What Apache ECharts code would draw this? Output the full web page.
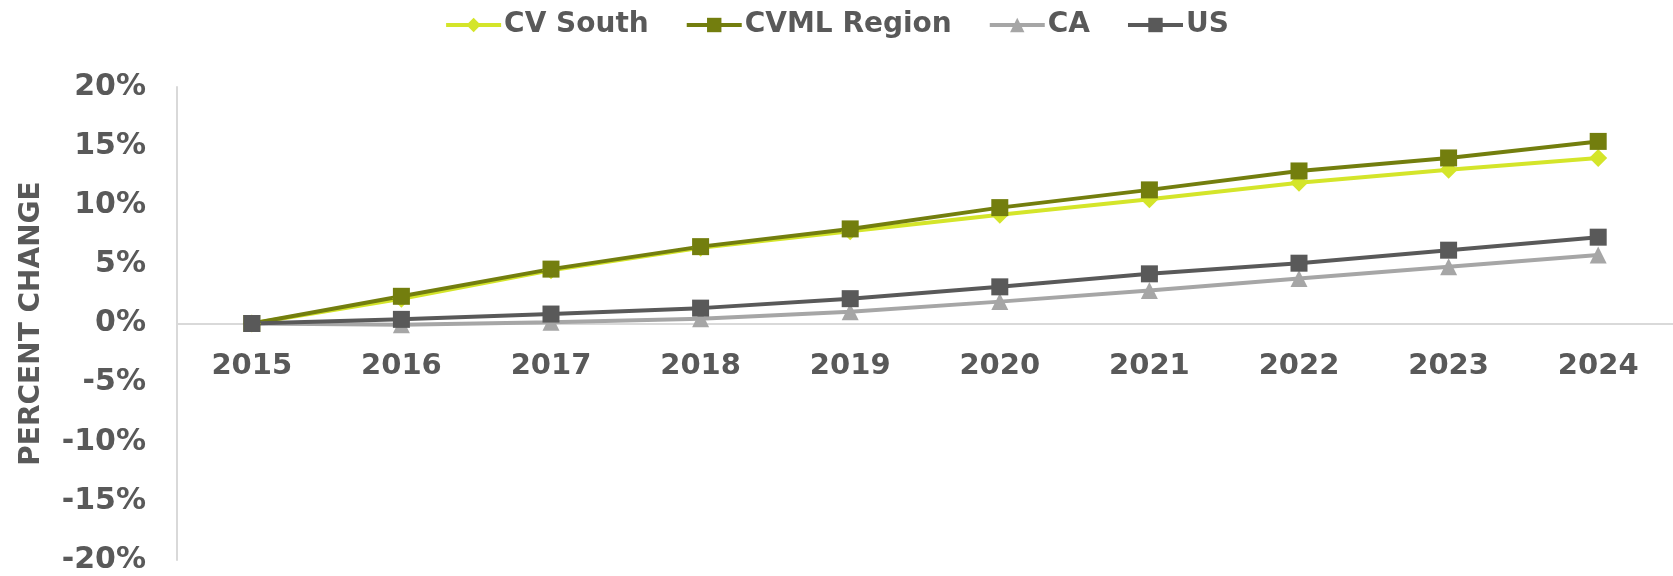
<!DOCTYPE html>
<html>
<head>
<meta charset="utf-8">
<script src="https://cdn.jsdelivr.net/npm/echarts@6/dist/echarts.min.js"></script>
<style>
	html, body { margin: 0; padding: 0; background: #fff; }
	#chart { width: 1673px; height: 576px; }
</style>
</head>
<body>
<div id="chart"></div>
<script>
	// data (percent change since 2015)
	var years = ['2015', '2016', '2017', '2018', '2019', '2020', '2021', '2022', '2023', '2024'];
	var cvSouth = [0, 2.1, 4.5, 6.4, 7.8, 9.2, 10.5, 11.9, 13.0, 14.0];
	var cvmlRegion = [0, 2.3, 4.6, 6.5, 8.0, 9.8, 11.3, 12.9, 14.0, 15.4];
	var ca = [0, -0.1, 0.1, 0.4, 1.0, 1.85, 2.8, 3.8, 4.8, 5.8];
	var us = [0, 0.35, 0.8, 1.3, 2.1, 3.1, 4.2, 5.1, 6.2, 7.3];

	var fontName = 'DejaVu Sans';
	var textColor = '#595959';

	var gridTop = 87, gridBottom = 16, chartH = 576;
	// x axis sits on the 0% line, halfway down the plot
	var zeroOffset = -((chartH - gridTop - gridBottom) / 2);

	var makeSeries = function(name, data, color, symbol, size){
		return {
			name: name,
			type: 'line',
			data: data,
			symbol: symbol,
			symbolSize: size,
			lineStyle: { color: color, width: 4 },
			itemStyle: { color: color },
			emphasis: { disabled: true }
		};
	};

	var myChart = echarts.init(document.getElementById('chart'));
	myChart.setOption({
		animation: false,
		textStyle: { fontFamily: fontName },
		legend: {
			top: 6,
			left: 'center',
			itemWidth: 55,
			itemHeight: 18,
			itemGap: 36,
			lineStyle: { width: 4 },
			textStyle: { color: textColor, fontSize: 28, fontWeight: 'bold', fontFamily: fontName, padding: [0, 0, 0, -2] },
			data: ['CV South', 'CVML Region', 'CA', 'US']
		},
		grid: {
			left: 177,
			right: 0,
			top: gridTop,
			bottom: gridBottom,
			containLabel: false
		},
		xAxis: {
			type: 'category',
			data: years,
			boundaryGap: true,
			offset: zeroOffset,
			axisLine: { onZero: false, lineStyle: { color: '#d9d9d9', width: 2 } },
			axisTick: { show: false },
			axisLabel: { color: textColor, fontSize: 29, fontWeight: 'bold', margin: 28, fontFamily: fontName }
		},
		yAxis: {
			type: 'value',
			min: -20,
			max: 20,
			interval: 5,
			name: 'PERCENT CHANGE',
			nameLocation: 'middle',
			nameGap: 131,
			nameRotate: 90,
			nameTextStyle: { color: textColor, fontSize: 28, fontWeight: 'bold', fontFamily: fontName },
			axisLine: { show: true, lineStyle: { color: '#d9d9d9', width: 2 } },
			axisTick: { show: false },
			splitLine: { show: false },
			axisLabel: {
				color: textColor, fontSize: 30, fontWeight: 'bold', margin: 31, fontFamily: fontName,
				formatter: function(v){ return v + '%'; }
			}
		},
		series: [
			makeSeries('CV South', cvSouth, '#d4e52a', 'diamond', 18),
			makeSeries('CVML Region', cvmlRegion, '#737e0e', 'rect', 17),
			makeSeries('CA', ca, '#a6a6a6', 'triangle', 17),
			makeSeries('US', us, '#595959', 'rect', 17)
		]
	});
</script>
</body>
</html>
